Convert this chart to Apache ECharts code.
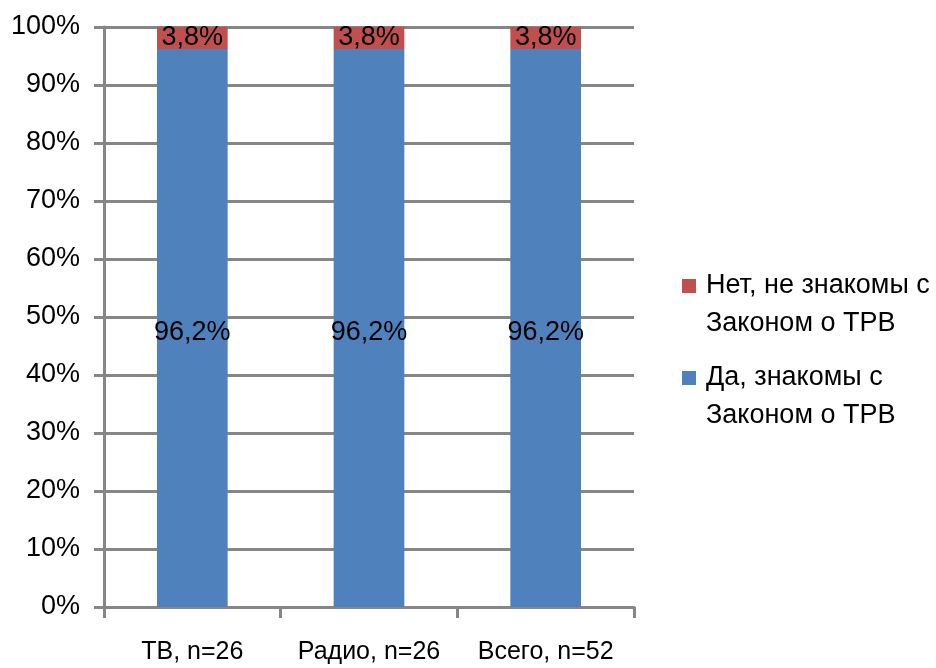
<!DOCTYPE html>
<html>
<head>
<meta charset="utf-8">
<script src="https://cdn.jsdelivr.net/npm/echarts@6/dist/echarts.min.js"></script>
<style>html,body{margin:0;padding:0;background:#fff;}#c{width:936px;height:668px;}</style>
</head>
<body>
<div id="c"></div>
<script>
const categories = ['ТВ, n=26', 'Радио, n=26', 'Всего, n=52'];
const seriesNames = ['Да, знакомы с\nЗаконом о ТРВ', 'Нет, не знакомы с\nЗаконом о ТРВ'];
const yesValues = [96.2, 96.2, 96.2];
const noValues = [3.8, 3.8, 3.8];
const yTicks = [0, 10, 20, 30, 40, 50, 60, 70, 80, 90, 100];

const gray = '#868686';
const fmt = p => p.value.toFixed(1).replace('.', ',') + '%';
const chart = echarts.init(document.getElementById('c'), null, {renderer: 'canvas'});
chart.setOption({
  animation: false,
  backgroundColor: '#fff',
  grid: {left: 104, right: 302, top: 27, bottom: 61, containLabel: false},
  legend: {
    orient: 'vertical',
    left: 682,
    top: 267,
    padding: 0,
    itemGap: 16,
    itemWidth: 19,
    itemHeight: 52,
    icon: 'path://M0,0h14v14h-14zM19,52h0',
    data: [seriesNames[1], seriesNames[0]],
    textStyle: {fontFamily: 'Liberation Sans', fontSize: 27, lineHeight: 38, color: '#000'}
  },
  xAxis: {
    type: 'category',
    data: categories,
    axisLine: {show: true, lineStyle: {color: gray, width: 3}},
    axisTick: {show: true, length: 11, alignWithLabel: false, lineStyle: {color: gray, width: 3}},
    axisLabel: {interval: 0, hideOverlap: false, margin: 33, fontFamily: 'Liberation Sans', fontSize: 25, color: '#000'}
  },
  yAxis: {
    type: 'value',
    min: yTicks[0],
    max: yTicks[yTicks.length - 1],
    interval: 10,
    axisLine: {show: true, lineStyle: {color: gray, width: 3}},
    axisTick: {show: true, length: 10, lineStyle: {color: gray, width: 3}},
    splitLine: {show: true, lineStyle: {color: gray, width: 3}},
    axisLabel: {formatter: '{value}%', margin: 24, fontFamily: 'Liberation Sans', fontSize: 27, color: '#000'}
  },
  series: [
    {
      name: seriesNames[0], type: 'bar', stack: 's', data: yesValues, barWidth: '40%',
      itemStyle: {color: '#4F81BD'},
      label: {show: true, position: 'inside', formatter: fmt, fontFamily: 'Liberation Sans', fontSize: 27, color: '#000', offset: [0, 5]}
    },
    {
      name: seriesNames[1], type: 'bar', stack: 's', data: noValues, barWidth: '40%',
      itemStyle: {color: '#C0504D'},
      label: {show: true, position: 'inside', formatter: fmt, fontFamily: 'Liberation Sans', fontSize: 27, color: '#000'}
    }
  ]
});
</script>
</body>
</html>
